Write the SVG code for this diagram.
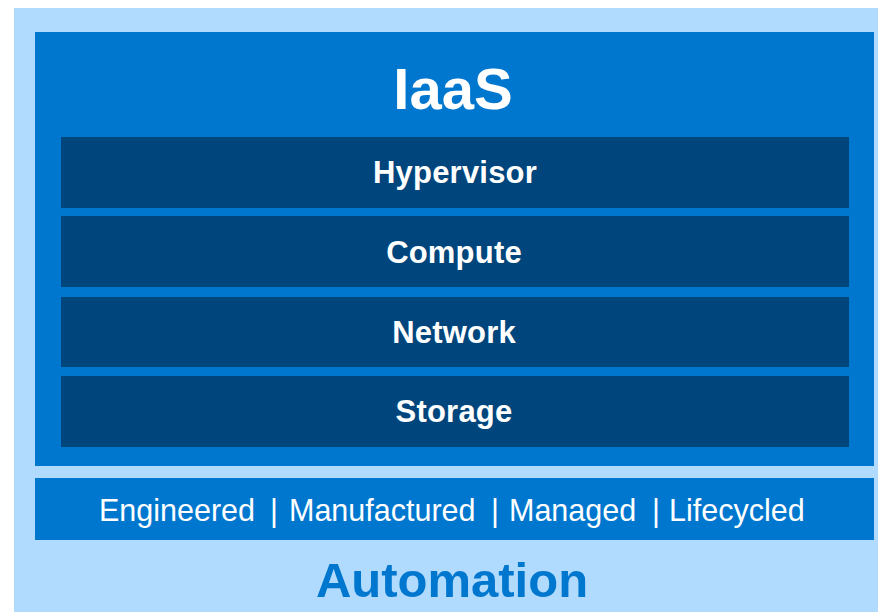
<svg xmlns="http://www.w3.org/2000/svg" width="878" height="612" viewBox="0 0 878 612">
  <style>
    .bg { fill: #B1DBFE; }
    .mid { fill: #0077CF; }
    .row { fill: #00467D; }
    .rowt { font-family: "Liberation Sans", Arial, sans-serif; font-weight: bold; font-size: 31px; letter-spacing: 0.2px; fill: #FFFFFF; text-anchor: middle; }
    .title { font-family: "Liberation Sans", Arial, sans-serif; font-weight: bold; font-size: 58px; fill: #FFFFFF; text-anchor: middle; }
    .bar { font-family: "Liberation Sans", Arial, sans-serif; font-size: 30.5px; fill: #FFFFFF; }
    .pipe { text-anchor: middle; }
    .auto { font-family: "Liberation Sans", Arial, sans-serif; font-weight: bold; font-size: 49px; fill: #0077CF; text-anchor: middle; }
  </style>
  <rect x="0" y="0" width="878" height="612" fill="#FFFFFF"/>
  <rect class="bg" x="14" y="8" width="864" height="604"/>
  <g id="iaas">
    <rect class="mid" x="35" y="32" width="839" height="434"/>
    <text class="title" x="453" y="109">IaaS</text>
  </g>
  <g id="hypervisor">
    <rect class="row" x="61" y="137" width="788" height="71"/>
    <text class="rowt" x="455" y="183">Hypervisor</text>
  </g>
  <g id="compute">
    <rect class="row" x="61" y="216" width="788" height="71"/>
    <text class="rowt" x="454" y="263">Compute</text>
  </g>
  <g id="network">
    <rect class="row" x="61" y="297" width="788" height="70"/>
    <text class="rowt" x="454" y="343">Network</text>
  </g>
  <g id="storage">
    <rect class="row" x="61" y="376" width="788" height="71"/>
    <text class="rowt" x="454" y="422">Storage</text>
  </g>
  <g id="qualities">
    <rect class="mid" x="35" y="478" width="839" height="62"/>
    <text class="bar" y="521"><tspan x="99">Engineered</tspan><tspan class="pipe" x="274">|</tspan><tspan x="289">Manufactured</tspan><tspan class="pipe" x="495">|</tspan><tspan x="509">Managed</tspan><tspan class="pipe" x="656">|</tspan><tspan x="669">Lifecycled</tspan></text>
  </g>
  <g id="automation">
    <text class="auto" x="452" y="597">Automation</text>
  </g>
  <g id="connectors"></g>
</svg>
